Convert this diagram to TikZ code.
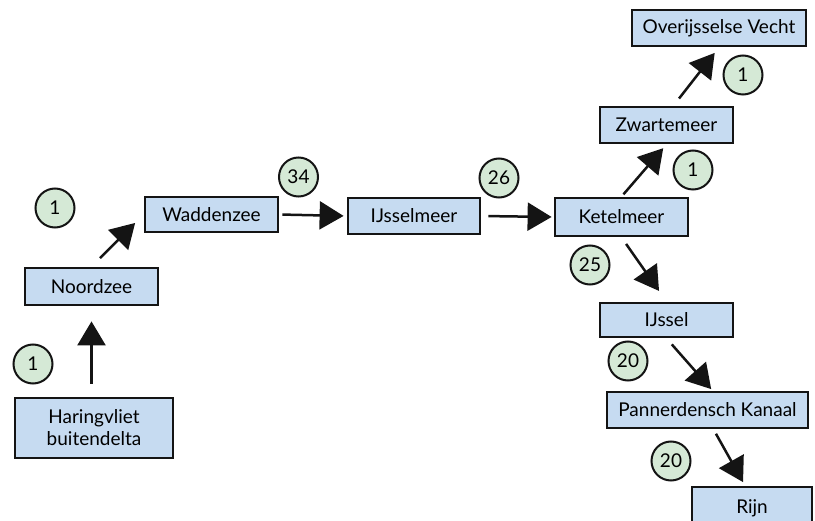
\documentclass[tikz,border=0pt]{standalone}
\usepackage{fontspec}
\setmainfont{Lato}
\usetikzlibrary{arrows.meta}
\definecolor{boxblue}{RGB}{198,219,241}
\definecolor{circgreen}{RGB}{213,233,214}
\definecolor{inkdark}{RGB}{20,20,20}
\tikzset{
  water/.style={draw=inkdark, line width=2.8pt, fill=boxblue, inner sep=0pt,
    font=\fontsize{19}{22}\selectfont, align=center},
  count/.style={circle, draw=inkdark, line width=2pt, fill=circgreen,
    minimum size=39pt, inner sep=0pt, font=\fontsize{19}{22}\selectfont},
  flow/.style={line width=2.5pt, draw=inkdark,
    -{Triangle[length=24pt,width=28pt]}}
}
\begin{document}
\begin{tikzpicture}[x=1pt,y=-1pt]
\useasboundingbox (0,0) rectangle (815,521);
\clip (0,0) rectangle (815,521);

% water bodies
\node[water, minimum width=158pt, minimum height=60pt] (har) at (94,428) {Haringvliet\\buitendelta};
\node[water, minimum width=133pt, minimum height=37pt] (nz) at (91.5,286.5) {Noordzee};
\node[water, minimum width=133pt, minimum height=35pt] (wz) at (211.5,214.5) {Waddenzee};
\node[water, minimum width=132pt, minimum height=36pt] (ijm) at (414,216) {IJsselmeer};
\node[water, minimum width=133pt, minimum height=38pt] (ket) at (621.5,217) {Ketelmeer};
\node[water, minimum width=133pt, minimum height=36pt] (zwm) at (666.5,125) {Zwartemeer};
\node[water, minimum width=174pt, minimum height=36pt] (ovv) at (719,28) {Overijsselse Vecht};
\node[water, minimum width=133pt, minimum height=34pt] (ijs) at (666.5,320) {IJssel};
\node[water, minimum width=201pt, minimum height=36pt] (pan) at (707.5,410) {Pannerdensch Kanaal};
\node[water, minimum width=120pt, minimum height=42pt] (rijn) at (752,508) {Rijn};

% counts
\node[count] (c1) at (33,364) {1};
\node[count] (c2) at (55,208) {1};
\node[count] (c3) at (298.5,177) {34};
\node[count] (c4) at (499,178) {26};
\node[count] (c5) at (693,170) {1};
\node[count] (c6) at (743,75) {1};
\node[count] (c7) at (590,265) {25};
\node[count] (c8) at (628,361) {20};
\node[count] (c9) at (671,461) {20};

% flows
\draw[flow, shorten <=13pt, shorten >=15pt] (har.north -| nz.south) -- (nz.south);
\draw[flow, shorten <=12pt, shorten >=12pt] (nz.north) -- (wz.west);
\draw[flow, shorten <=3pt, shorten >=3pt] (wz.east) -- (ijm.west);
\draw[flow, shorten <=7pt, shorten >=2pt] (ijm.east) -- (ket.west);
\draw[flow, shorten <=3pt, shorten >=5pt] (ket.north) -- (zwm.south);
\draw[flow, shorten <=9pt, shorten >=7pt] ([xshift=7pt]zwm.north) -- (ovv.south);
\draw[flow, shorten <=8pt, shorten >=13pt] (ket.south) -- (ijs.north);
\draw[flow, shorten <=8pt, shorten >=2pt] (ijs.south) -- ([xshift=5pt]pan.north);
\draw[flow, shorten <=5pt, shorten >=4pt] ([xshift=6pt]pan.south) -- ([xshift=-7pt]rijn.north);
\end{tikzpicture}
\end{document}
